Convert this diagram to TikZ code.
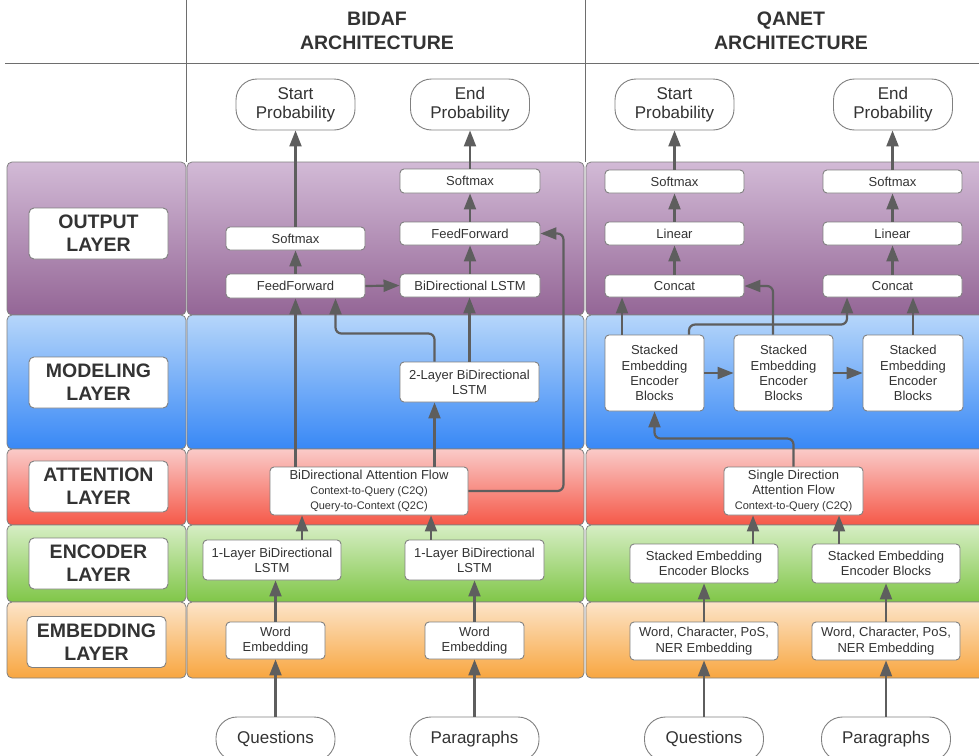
\documentclass[tikz,border=0pt]{standalone}
\usepackage{fontspec}
\setmainfont{Liberation Sans}
\usetikzlibrary{arrows.meta}
\definecolor{arrgray}{HTML}{5E5E5E}
\definecolor{bordgray}{HTML}{808080}
\definecolor{txt}{HTML}{333333}
\definecolor{outT}{HTML}{D2BAD6}\definecolor{outB}{HTML}{946696}
\definecolor{modT}{HTML}{B6D6FA}\definecolor{modB}{HTML}{3888F6}
\definecolor{attT}{HTML}{FACAC8}\definecolor{attB}{HTML}{F55848}
\definecolor{encT}{HTML}{D6EEC4}\definecolor{encB}{HTML}{80C648}
\definecolor{embT}{HTML}{FCE4C8}\definecolor{embB}{HTML}{F8A640}
\newcommand{\drawband}[4]{%
  \foreach \xa/\xb in {7/186,187/584,586/995}{%
    \shade[top color=#3,bottom color=#4,draw=bordgray,line width=0.8pt,rounded corners=5pt] (\xa,#1) rectangle (\xb,#2);
  }}
\tikzset{
  box/.style={draw=bordgray,fill=white,rounded corners=4pt,line width=0.9pt,text=txt,align=center,inner sep=0pt,font=\fontsize{13}{15.3}\selectfont},
  prob/.style={draw=bordgray,fill=white,rounded corners=21pt,line width=0.9pt,text=txt,align=center,inner sep=0pt,font=\fontsize{17}{19.3}\selectfont,minimum width=119pt,minimum height=51pt},
  term/.style={draw=bordgray,fill=white,rounded corners=21pt,line width=0.9pt,text=txt,align=center,inner sep=0pt,font=\fontsize{17}{19.3}\selectfont,minimum height=44pt},
  lbl/.style={draw=bordgray,fill=white,rounded corners=5pt,line width=0.9pt,text=txt,align=center,inner sep=0pt,font=\bfseries\fontsize{19.5}{23.3}\selectfont,minimum width=139pt,minimum height=51pt},
  hdr/.style={text=txt,align=center,inner sep=0pt,font=\bfseries\fontsize{19.5}{24.5}\selectfont},
  arr/.style={draw=arrgray,line width=2.2pt,rounded corners=6pt,-{Triangle[length=16pt,width=12pt]}},
  sep/.style={draw=arrgray!90,line width=0.9pt}
}
\begin{document}
\begin{tikzpicture}[x=1pt,y=-1pt]
\clip (0,0) rectangle (979,755);
\fill[white] (0,0) rectangle (979,755);
% header lines
\draw[sep] (5,63) -- (979,63);
\draw[sep] (186,0) -- (186,162);
\draw[sep] (585,0) -- (585,162);
\node[hdr] (h1) at (377,31) {BIDAF\\ARCHITECTURE};
\node[hdr] (h2) at (791,31) {QANET\\ARCHITECTURE};
% bands
\drawband{162}{315}{outT}{outB}
\drawband{315}{449}{modT}{modB}
\drawband{449}{525}{attT}{attB}
\drawband{525}{602}{encT}{encB}
\drawband{602}{678}{embT}{embB}
% labels
\node[lbl] (lo) at (98.5,233.5) {OUTPUT\\LAYER};
\node[lbl] (lm) at (98.5,382.5) {MODELING\\LAYER};
\node[lbl] (la) at (98.5,486.5) {ATTENTION\\LAYER};
\node[lbl] (le) at (98.5,563.5) {ENCODER\\LAYER};
\node[lbl] (lb) at (96.5,642) {EMBEDDING\\LAYER};
% top probability nodes
\node[prob] (spB) at (295.5,104.5) {Start\\Probability};
\node[prob] (epB) at (470,104.5) {End\\Probability};
\node[prob] (spQ) at (674.5,104.5) {Start\\Probability};
\node[prob] (epQ) at (893,104.5) {End\\Probability};
% BIDAF nodes
\node[box,minimum width=139pt,minimum height=23pt] (smL) at (295.5,238.5) {Softmax};
\node[box,minimum width=139pt,minimum height=24pt] (ffL) at (295.5,286) {FeedForward};
\node[box,minimum width=140pt,minimum height=24pt] (smR) at (470,181) {Softmax};
\node[box,minimum width=140pt,minimum height=23pt] (ffR) at (470,233.5) {FeedForward};
\node[box,minimum width=140pt,minimum height=23pt] (bl) at (470,285.5) {BiDirectional LSTM};
\node[box,minimum width=139pt,minimum height=40pt] (two) at (469.5,382) {2-Layer BiDirectional\\LSTM};
\node[box,minimum width=198pt,minimum height=48pt] (att) at (369,491) {BiDirectional Attention Flow\\\fontsize{11}{11.7}\selectfont Context-to-Query (C2Q)\\\fontsize{11}{11.7}\selectfont Query-to-Context (Q2C)};
\node[box,minimum width=138pt,minimum height=40pt] (encL) at (272,560) {1-Layer BiDirectional\\LSTM};
\node[box,minimum width=139pt,minimum height=40pt] (encR) at (474.5,560) {1-Layer BiDirectional\\LSTM};
\node[box,minimum width=99pt,minimum height=37pt] (weL) at (275.5,640.5) {Word\\Embedding};
\node[box,minimum width=99pt,minimum height=37pt] (weR) at (474.5,640.5) {Word\\Embedding};
\node[term,minimum width=119pt] (qB) at (275.5,739) {Questions};
\node[term,minimum width=129pt] (pB) at (474.5,739) {Paragraphs};
% QANET nodes
\node[box,minimum width=139pt,minimum height=23pt] (smQL) at (674.5,181.5) {Softmax};
\node[box,minimum width=139pt,minimum height=23pt] (linQL) at (674.5,233.5) {Linear};
\node[box,minimum width=139pt,minimum height=22pt] (ccQL) at (674.5,286) {Concat};
\node[box,minimum width=139pt,minimum height=23pt] (smQR) at (892.5,181.5) {Softmax};
\node[box,minimum width=139pt,minimum height=23pt] (linQR) at (892.5,233.5) {Linear};
\node[box,minimum width=139pt,minimum height=22pt] (ccQR) at (892.5,286) {Concat};
\node[box,minimum width=99pt,minimum height=76pt] (b1) at (654.5,373) {Stacked\\Embedding\\Encoder\\Blocks};
\node[box,minimum width=99pt,minimum height=76pt] (b2) at (783.5,373) {Stacked\\Embedding\\Encoder\\Blocks};
\node[box,minimum width=100pt,minimum height=76pt] (b3) at (913,373) {Stacked\\Embedding\\Encoder\\Blocks};
\node[box,minimum width=139pt,minimum height=48pt] (sd) at (793.5,491) {Single Direction\\Attention Flow\\\fontsize{11}{15}\selectfont Context-to-Query (C2Q)};
\node[box,minimum width=148pt,minimum height=39pt] (seL) at (704,563.5) {Stacked Embedding\\Encoder Blocks};
\node[box,minimum width=148pt,minimum height=39pt] (seR) at (886,563.5) {Stacked Embedding\\Encoder Blocks};
\node[box,minimum width=148pt,minimum height=38pt] (wcL) at (704,641) {Word, Character, PoS,\\NER Embedding};
\node[box,minimum width=148pt,minimum height=38pt] (wcR) at (886,641) {Word, Character, PoS,\\NER Embedding};
\node[term,minimum width=119pt] (qQ) at (704,739) {Questions};
\node[term,minimum width=129pt] (pQ) at (886,739) {Paragraphs};
% BIDAF arrows
\draw[arr] (qB.north) -- (weL.south);
\draw[arr] (pB.north) -- (weR.south);
\draw[arr] (weL.north) -- (weL.north |- encL.south);
\draw[arr] (weR.north) -- (weR.north |- encR.south);
\draw[arr] ([xshift=30pt]encL.north) -- ([xshift=30pt]encL.north |- att.south);
\draw[arr] ([xshift=-43.5pt]encR.north) -- ([xshift=-43.5pt]encR.north |- att.south);
\draw[arr] (ffL.south |- att.north) -- (ffL.south);
\draw[arr] ([xshift=-35pt]two.south |- att.north) -- ([xshift=-35pt]two.south);
\draw[arr] ([xshift=-35pt]two.north) -- ++(0,-28) -| ([xshift=40pt]ffL.south);
\draw[arr] (two.north) -- (two.north |- bl.south);
\draw[arr] (att.east) -| ([xshift=23pt]ffR.east) -- (ffR.east);
\draw[arr] (ffL.east) -- (bl.west);
\draw[arr] (bl.north) -- (ffR.south);
\draw[arr] (ffR.north) -- (smR.south);
\draw[arr] (smR.north) -- (smR.north |- epB.south);
\draw[arr] (ffL.north) -- (smL.south);
\draw[arr] (smL.north) -- (smL.north |- spB.south);
% QANET arrows
\draw[arr] (qQ.north) -- (wcL.south);
\draw[arr] (pQ.north) -- (wcR.south);
\draw[arr] (wcL.north) -- (seL.south);
\draw[arr] (wcR.north) -- (seR.south);
\draw[arr] ([xshift=-40.5pt]sd.south |- seL.north) -- ([xshift=-40.5pt]sd.south);
\draw[arr] ([xshift=45.5pt]sd.south |- seR.north) -- ([xshift=45.5pt]sd.south);
\draw[arr] (sd.north) -- ++(0,-28) -| (b1.south);
\draw[arr] (b1.east) -- (b2.west);
\draw[arr] (b2.east) -- (b3.west);
\draw[arr] ([xshift=-32.5pt]b1.north) -- ([xshift=-32.5pt]b1.north |- ccQL.south);
\draw[arr] ([xshift=34.5pt]b1.north) -- ++(0,-10) -| ([xshift=-45.5pt]ccQR.south);
\draw[arr] ([xshift=-10.5pt]b2.north) |- (ccQL.east);
\draw[arr] (b3.north) -- (b3.north |- ccQR.south);
\draw[arr] (ccQL.north) -- (linQL.south);
\draw[arr] (linQL.north) -- (smQL.south);
\draw[arr] (smQL.north) -- (smQL.north |- spQ.south);
\draw[arr] (ccQR.north) -- (linQR.south);
\draw[arr] (linQR.north) -- (smQR.south);
\draw[arr] (smQR.north) -- (smQR.north |- epQ.south);
\end{tikzpicture}
\end{document}
